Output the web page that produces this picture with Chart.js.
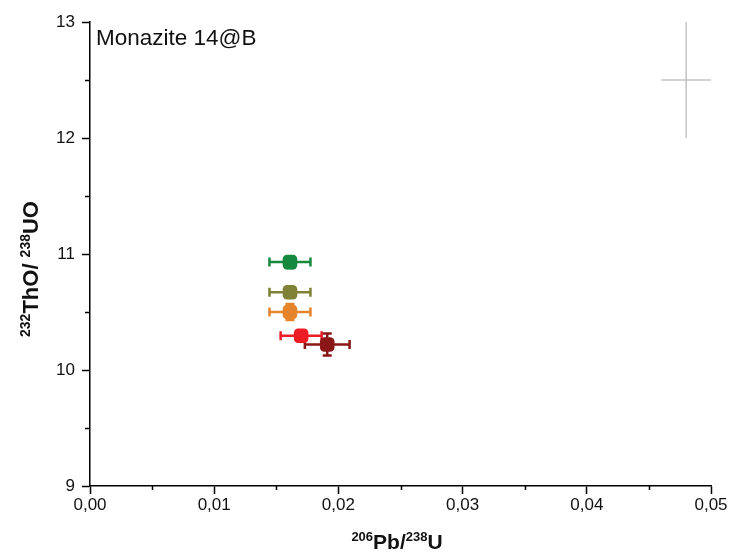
<!DOCTYPE html>
<html>
<head>
<meta charset="utf-8">
<script src="https://cdn.jsdelivr.net/npm/chart.js@4.4.0/dist/chart.umd.min.js"></script>
<style>
  body { margin: 0; background: #fff; }
  canvas { display: block; }
</style>
</head>
<body>
<canvas id="chart" width="734" height="555"></canvas>
<script>
// spot analyses, Monazite 14@B
const spots = ["spot 1", "spot 2", "spot 3", "spot 4", "spot 5"];
const pbU = [0.0161, 0.0161, 0.0161, 0.0170, 0.0191];       // 206Pb/238U
const thoUo = [10.93, 10.67, 10.50, 10.295, 10.22];          // 232ThO/238UO
const pbUErr = [0.00165, 0.00165, 0.00165, 0.00165, 0.0018];
const thoUoErr = [0.05, 0.03, 0.07, 0.03, 0.095];
const spotColors = ["#17893f", "#7f8236", "#e5842a", "#ed1c24", "#8a1616"];

// typical error cross (top right)
const refX = [0.048];
const refY = [12.5];
const refXErr = [0.002];
const refYErr = [0.5];

Chart.defaults.font.family = '"Liberation Sans", Arial, sans-serif';
Chart.defaults.color = "#111";

function isMajorX(v) {
  return Math.abs(Math.round(v * 100) - v * 100) < 1e-6;
}
function isMajorY(v) {
  return Math.abs(Math.round(v) - v) < 1e-6;
}

// draws error bars for every dataset that has ex / ey on its points
const errorBars = {
  id: "errorBars",
  beforeDatasetsDraw(chart) {
    const ctx = chart.ctx;
    const xs = chart.scales.x;
    const ys = chart.scales.y;
    chart.data.datasets.forEach((ds) => {
      const cap = ds.capSize === undefined ? 4.5 : ds.capSize;
      ctx.save();
      ctx.strokeStyle = ds.errColor || ds.borderColor;
      ctx.lineWidth = ds.errWidth || 2.5;
      ds.data.forEach((p) => {
        const px = xs.getPixelForValue(p.x);
        const py = ys.getPixelForValue(p.y);
        const x0 = xs.getPixelForValue(p.x - p.ex);
        const x1 = xs.getPixelForValue(p.x + p.ex);
        const y0 = ys.getPixelForValue(p.y - p.ey);
        const y1 = ys.getPixelForValue(p.y + p.ey);
        ctx.beginPath();
        ctx.moveTo(x0, py); ctx.lineTo(x1, py);
        ctx.moveTo(px, y0); ctx.lineTo(px, y1);
        if (cap > 0) {
          ctx.moveTo(x0, py - cap); ctx.lineTo(x0, py + cap);
          ctx.moveTo(x1, py - cap); ctx.lineTo(x1, py + cap);
          ctx.moveTo(px - cap, y0); ctx.lineTo(px + cap, y0);
          ctx.moveTo(px - cap, y1); ctx.lineTo(px + cap, y1);
        }
        ctx.stroke();
      });
      ctx.restore();
    });
  },
};

// text with superscripts
function drawRich(ctx, parts, x, y, size) {
  const big = "bold " + size + "px 'Liberation Sans', Arial, sans-serif";
  const small = "bold " + Math.round(size * 0.62) + "px 'Liberation Sans', Arial, sans-serif";
  let total = 0;
  parts.forEach((p) => {
    ctx.font = p.sup ? small : big;
    total += ctx.measureText(p.t).width;
  });
  let cx = x - total / 2;
  ctx.textAlign = "left";
  ctx.textBaseline = "alphabetic";
  parts.forEach((p) => {
    ctx.font = p.sup ? small : big;
    ctx.fillText(p.t, cx, p.sup ? y - 8 : y);
    cx += ctx.measureText(p.t).width;
  });
}

const decorations = {
  id: "decorations",
  afterDraw(chart) {
    const ctx = chart.ctx;
    const xs = chart.scales.x;
    const ys = chart.scales.y;
    const area = chart.chartArea;
    ctx.save();
    // minor ticks
    ctx.strokeStyle = "#000";
    ctx.lineWidth = 1.5;
    ctx.beginPath();
    xs.ticks.forEach((t) => {
      if (isMajorX(t.value)) return;
      const px = Math.round(xs.getPixelForValue(t.value)) + 0.5;
      ctx.moveTo(px, area.bottom);
      ctx.lineTo(px, area.bottom + 4);
    });
    ys.ticks.forEach((t) => {
      if (isMajorY(t.value)) return;
      const py = Math.round(ys.getPixelForValue(t.value)) + 0.5;
      ctx.moveTo(area.left, py);
      ctx.lineTo(area.left - 5, py);
    });
    ctx.stroke();

    // sample label
    ctx.fillStyle = "#111";
    ctx.font = "22.5px 'Liberation Sans', Arial, sans-serif";
    ctx.textAlign = "left";
    ctx.textBaseline = "alphabetic";
    ctx.fillText("Monazite 14@B", 96, 45);

    // axis titles
    drawRich(ctx, [
      { t: "206", sup: true }, { t: "Pb/", sup: false },
      { t: "238", sup: true }, { t: "U", sup: false },
    ], 397, 549, 21);

    ctx.translate(38, 269);
    ctx.rotate(-Math.PI / 2);
    drawRich(ctx, [
      { t: "232", sup: true }, { t: "ThO/ ", sup: false },
      { t: "238", sup: true }, { t: "UO", sup: false },
    ], 0, 0, 22);
    ctx.restore();
  },
};

const datasets = spots.map((name, i) => ({
  label: name,
  data: [{ x: pbU[i], y: thoUo[i], ex: pbUErr[i], ey: thoUoErr[i] }],
  backgroundColor: spotColors[i],
  borderColor: spotColors[i],
  pointStyle: "rectRounded",
  pointRadius: 8.5,
  borderWidth: 0,
}));

datasets.push({
  label: "error scale",
  data: refX.map((v, i) => ({ x: v, y: refY[i], ex: refXErr[i], ey: refYErr[i] })),
  borderColor: "#c4c4c4",
  pointRadius: 0,
  capSize: 0,
  errWidth: 1.5,
});

new Chart(document.getElementById("chart"), {
  type: "scatter",
  data: { datasets: datasets },
  options: {
    responsive: false,
    animation: false,
    layout: { padding: { top: 22, right: 23, left: 0, bottom: 0 } },
    plugins: { legend: { display: false }, tooltip: { enabled: false } },
    scales: {
      x: {
        type: "linear",
        min: 0,
        max: 0.05,
        afterFit: (s) => { s.height = 69; },
        ticks: {
          stepSize: 0.005,
          autoSkip: false,
          maxRotation: 0,
          padding: 1,
          font: { size: 17 },
          callback: (v) => (isMajorX(v) ? v.toFixed(2).replace(".", ",") : ""),
        },
        grid: {
          drawOnChartArea: false,
          tickLength: 8,
          tickWidth: 1.5,
          tickColor: (c) => (c.tick && isMajorX(c.tick.value) ? "#000" : "rgba(0,0,0,0)"),
        },
        border: { color: "#000", width: 1.5 },
      },
      y: {
        type: "linear",
        min: 9,
        max: 13,
        afterFit: (s) => { s.width = 90; },
        ticks: {
          stepSize: 0.5,
          autoSkip: false,
          padding: 7,
          font: { size: 17 },
          callback: (v) => (isMajorY(v) ? String(Math.round(v)) : ""),
        },
        grid: {
          drawOnChartArea: false,
          tickLength: 8,
          tickWidth: 1.5,
          tickColor: (c) => (c.tick && isMajorY(c.tick.value) ? "#000" : "rgba(0,0,0,0)"),
        },
        border: { color: "#000", width: 1.5 },
      },
    },
  },
  plugins: [errorBars, decorations],
});
</script>
</body>
</html>
